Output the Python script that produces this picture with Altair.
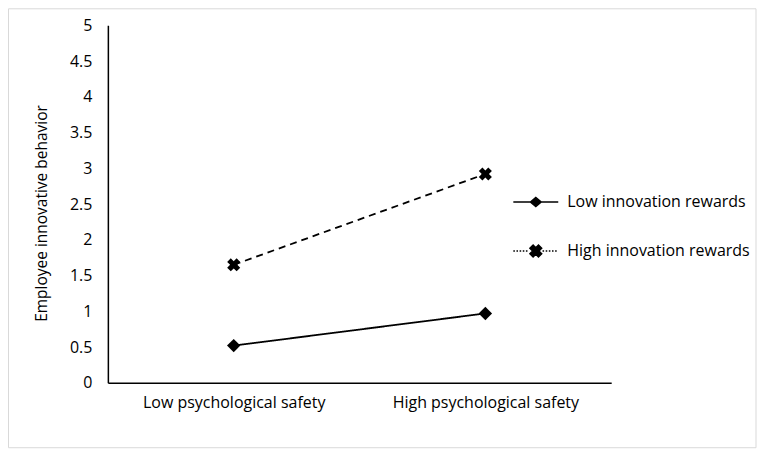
import math
import altair as alt
import pandas as pd

# ---- data ----
safety = ["Low psychological safety", "High psychological safety"]
series_names = ["Low innovation rewards", "High innovation rewards"]
low_rewards = [0.52, 0.97]
high_rewards = [1.65, 2.92]
y_ticks = [0, 0.5, 1, 1.5, 2, 2.5, 3, 3.5, 4, 4.5, 5]

rows = []
for s, vals in zip(series_names, [low_rewards, high_rewards]):
    for c, v in zip(safety, vals):
        rows.append({"safety": c, "series": s, "value": v})
df = pd.DataFrame(rows)

FONT = "Open Sans"
TXT = "#000000"
FS = 16


def x_path(a, t):
    pts = [(t, -a), (t, -t), (a, -t), (a, t), (t, t), (t, a), (-t, a), (-t, t),
           (-a, t), (-a, -t), (-t, -t), (-t, -a)]
    c = math.sqrt(0.5)
    rot = [((x - y) * c, (x + y) * c) for x, y in pts]
    return "M" + "L".join(f"{x:.3f},{y:.3f}" for x, y in rot) + "Z"


def dotted(x0, x1, dot=0.07, period=0.14):
    out = []
    x = x0
    while x + dot <= x1 + 1e-9:
        out.append(f"M{x:.3f},0H{x + dot:.3f}")
        x += period
    return "".join(out)


chart_x = x_path(1.0, 0.38)
legend_low = "M-1,0H1M-0.24,0L0,-0.2L0.24,0L0,0.2Z"
legend_high = dotted(-1.0, -0.3) + dotted(0.3, 1.0) + x_path(0.27, 0.1)

x_enc = alt.X("safety:N", sort=safety, scale=alt.Scale(padding=0.5),
              axis=alt.Axis(title=None, labelAngle=0, labelPadding=12, labelLimit=400))
y_enc = alt.Y("value:Q", scale=alt.Scale(domain=[0, 5], nice=False),
              axis=alt.Axis(values=y_ticks, format="~g", title="Employee innovative behavior",
                            titleX=-66, titleY=188, titleAngle=-90, titleBaseline="middle",
                            labelPadding=16, titleFontSize=15.5, titleFontWeight="normal",
                            titleLimit=400))

lines = alt.Chart(df).mark_line(color="black", strokeWidth=1.8).encode(
    x=x_enc, y=y_enc,
    detail="series:N",
    strokeDash=alt.StrokeDash("series:N", scale=alt.Scale(domain=series_names, range=[[1, 0], [7, 5]]),
                              legend=None),
)

points = alt.Chart(df).mark_point(filled=True, color="black", size=180, opacity=1).encode(
    x=x_enc, y=y_enc,
    shape=alt.Shape("series:N", scale=alt.Scale(domain=series_names, range=["diamond", chart_x]),
                    legend=None),
)

legend_layer = alt.Chart(df).transform_filter("false").mark_point(
    filled=True, fill="black", stroke="black", strokeWidth=1.5, opacity=1
).encode(
    x=x_enc, y=y_enc,
    shape=alt.Shape("series:N", scale=alt.Scale(domain=series_names, range=[legend_low, legend_high]),
                    legend=alt.Legend(title=None, orient="none", legendX=405, legendY=153.5,
                                      symbolSize=2025, symbolStrokeWidth=1.5, labelOffset=8,
                                      rowPadding=17, padding=0, labelFontSize=FS, labelFont=FONT,
                                      labelColor=TXT, symbolOpacity=1, labelLimit=400)),
)

frame = alt.Chart(alt.Data(values=[{}])).mark_rect(
    fill="transparent", stroke="#d9d9d9", strokeWidth=1
).encode(x=alt.value(-99.5), x2=alt.value(649), y=alt.value(-16.5), y2=alt.value(423))

chart = alt.layer(frame, lines, points, legend_layer).resolve_scale(
    shape="independent"
).properties(
    width=504, height=358, autosize="none",
    padding={"left": 100, "top": 17, "right": 146, "bottom": 66},
).configure_axis(
    domainColor="black", domainWidth=1.5, ticks=False, grid=False,
    labelFont=FONT, labelFontSize=FS, labelColor=TXT,
    titleFont=FONT, titleColor=TXT,
).configure_view(stroke=None)

chart.save("out.html", embed_options={"renderer": "svg", "actions": False})
